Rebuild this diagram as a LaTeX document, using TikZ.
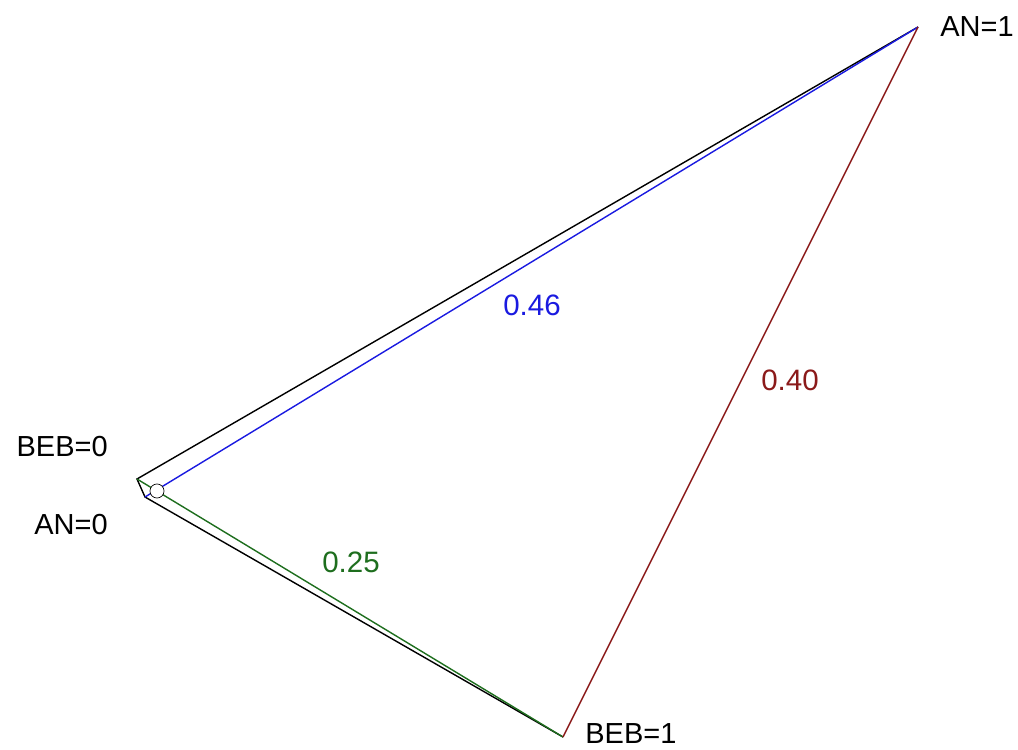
\documentclass[tikz,border=0pt]{standalone}
\usepackage{fontspec}
\setmainfont{Liberation Sans}
\usetikzlibrary{calc}
\definecolor{lineblue}{HTML}{1A1AE0}
\definecolor{linegreen}{HTML}{1E6E1E}
\definecolor{linered}{HTML}{8B1A1A}

\begin{document}
\begin{tikzpicture}[x=0.02cm, y=-0.02cm,
    vlabel/.style={font=\fontsize{16.5}{19}\selectfont, inner sep=0pt},
    wlabel/.style={font=\fontsize{16.8}{19}\selectfont, inner sep=0pt}]
\useasboundingbox (0,0) rectangle (1018,750);
% Corner points of the plot
\coordinate (beb0) at (137,479);
\coordinate (an0) at (145,497);
\coordinate (an1) at (918,27);
\coordinate (beb1) at (563,737);
% Outer frame
\draw[black, line width=0.8pt] (an1) -- (beb0) -- (an0) -- (beb1);
% Axes through the centre
\draw[lineblue, line width=0.8pt] (an0) -- (an1);
\draw[linegreen, line width=0.8pt] (beb0) -- (beb1);
\draw[linered, line width=0.8pt] (an1) -- (beb1);
\node[circle, draw, fill=white, inner sep=0pt, minimum size=8pt] (centre) at (157,491) {};
% Vertex labels
\node[vlabel, anchor=west] (lan1) at (940,27) {AN=1};
\node[vlabel, anchor=west] (lbeb1) at (585,734) {BEB=1};
\node[vlabel, anchor=east] (lbeb0) at (108,447) {BEB=0};
\node[vlabel, anchor=east] (lan0) at (108,525) {AN=0};
% Weights
\node[wlabel, text=lineblue] (w46) at (532,305) {0.46};
\node[wlabel, text=linegreen] (w25) at (351,562) {0.25};
\node[wlabel, text=linered] (w40) at (790,380) {0.40};
\end{tikzpicture}
\end{document}
